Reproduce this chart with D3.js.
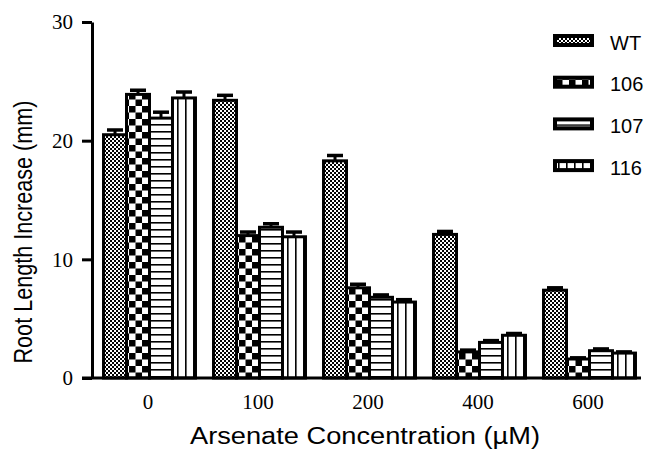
<!DOCTYPE html>
<html>
<head>
<meta charset="utf-8">
<script src="https://cdn.jsdelivr.net/npm/d3@7"></script>
<style>
  html, body { margin: 0; padding: 0; background: #fff; }
  svg { display: block; }
</style>
</head>
<body>
<svg id="chart" width="649" height="451"></svg>
<script>
// ---- data ----
const categories = ["0", "100", "200", "400", "600"];
const seriesNames = ["WT", "106", "107", "116"];
const valuesWT  = [20.5, 23.4, 18.3, 12.1, 7.4];
const values106 = [23.9, 12.0, 7.6, 2.2, 1.6];
const values107 = [21.9, 12.7, 6.8, 3.0, 2.3];
const values116 = [23.6, 11.9, 6.4, 3.6, 2.1];
const errWT  = [0.40, 0.42, 0.45, 0.25, 0.20];
const err106 = [0.35, 0.30, 0.30, 0.15, 0.10];
const err107 = [0.50, 0.30, 0.20, 0.15, 0.15];
const err116 = [0.50, 0.40, 0.20, 0.15, 0.10];
const yTicks = [0, 10, 20, 30];

const seriesVals = [valuesWT, values106, values107, values116];
const seriesErr = [errWT, err106, err107, err116];
const patternIds = ["pWT", "p106", "p107", "p116"];

const svg = d3.select("#chart");
const defs = svg.append("defs");

// fine checker
let p = defs.append("pattern").attr("id", "pWT").attr("patternUnits", "userSpaceOnUse")
  .attr("width", 4).attr("height", 4);
p.append("rect").attr("width", 4).attr("height", 4).attr("fill", "#fff");
p.append("rect").attr("x", 0).attr("y", 0).attr("width", 2).attr("height", 2).attr("fill", "#000");
p.append("rect").attr("x", 2).attr("y", 2).attr("width", 2).attr("height", 2).attr("fill", "#000");
// coarse checker
p = defs.append("pattern").attr("id", "p106").attr("patternUnits", "userSpaceOnUse")
  .attr("width", 13).attr("height", 13).attr("x", 1).attr("y", 2);
p.append("rect").attr("width", 13).attr("height", 13).attr("fill", "#fff");
p.append("rect").attr("x", 0).attr("y", 0).attr("width", 6.5).attr("height", 6.5).attr("fill", "#000");
p.append("rect").attr("x", 6.5).attr("y", 6.5).attr("width", 6.5).attr("height", 6.5).attr("fill", "#000");
// horizontal lines
p = defs.append("pattern").attr("id", "p107").attr("patternUnits", "userSpaceOnUse")
  .attr("width", 7).attr("height", 7);
p.append("rect").attr("width", 7).attr("height", 7).attr("fill", "#fff");
p.append("rect").attr("x", 0).attr("y", 5).attr("width", 7).attr("height", 1.6).attr("fill", "#000");
// vertical lines
p = defs.append("pattern").attr("id", "p116").attr("patternUnits", "userSpaceOnUse")
  .attr("width", 8).attr("height", 8).attr("x", 3);
p.append("rect").attr("width", 8).attr("height", 8).attr("fill", "#fff");
p.append("rect").attr("x", 0).attr("y", 0).attr("width", 1.6).attr("height", 8).attr("fill", "#000");

// ---- scales ----
const y = d3.scaleLinear().domain([0, 30]).range([378, 22]);
const x0 = d3.scaleBand().domain(categories).range([93, 643])
  .paddingInner(0.164).paddingOuter(0.082);
const x1 = d3.scaleBand().domain(seriesNames).range([0, x0.bandwidth()]).padding(0);

// ---- bars ----
const groups = svg.append("g").selectAll("g").data(categories).join("g")
  .attr("transform", d => `translate(${x0(d)},0)`);

seriesNames.forEach((s, si) => {
  groups.append("rect")
    .attr("x", x1(s) + 1.5)
    .attr("width", x1.bandwidth())
    .attr("y", (d, ci) => y(seriesVals[si][ci]))
    .attr("height", (d, ci) => y(0) - y(seriesVals[si][ci]))
    .attr("fill", `url(#${patternIds[si]})`)
    .attr("stroke", "#000").attr("stroke-width", 3);
});
// error bars
seriesNames.forEach((s, si) => {
  const cx = x1(s) + x1.bandwidth() / 2 + 1.5;
  groups.append("line")
    .attr("x1", cx).attr("x2", cx)
    .attr("y1", (d, ci) => y(seriesVals[si][ci]))
    .attr("y2", (d, ci) => y(seriesVals[si][ci] + seriesErr[si][ci]))
    .attr("stroke", "#000").attr("stroke-width", 3);
  groups.append("line")
    .attr("x1", cx - 8).attr("x2", cx + 8)
    .attr("y1", (d, ci) => y(seriesVals[si][ci] + seriesErr[si][ci]))
    .attr("y2", (d, ci) => y(seriesVals[si][ci] + seriesErr[si][ci]))
    .attr("stroke", "#000").attr("stroke-width", 3.5);
});

// ---- axes ----
const yAxis = svg.append("g").attr("transform", "translate(92,0)")
  .call(d3.axisLeft(y).tickValues(yTicks).tickSize(10).tickSizeOuter(0).tickPadding(9));
yAxis.select(".domain").attr("stroke-width", 3);
yAxis.selectAll(".tick line").attr("stroke-width", 3);
yAxis.selectAll(".tick text").attr("font-family", "Liberation Serif").attr("font-size", 21).attr("fill", "#000");

const xAxis = svg.append("g").attr("transform", "translate(0,378)")
  .call(d3.axisBottom(x0).tickSize(0).tickPadding(16));
xAxis.select(".domain").attr("d", "M82,0H641").attr("stroke-width", 3);
xAxis.selectAll(".tick text").attr("font-family", "Liberation Serif").attr("font-size", 21).attr("fill", "#000");

// axis titles
svg.append("text").attr("x", 365).attr("y", 444).attr("text-anchor", "middle")
  .attr("font-family", "Liberation Sans").attr("font-size", 23)
  .attr("textLength", 350).attr("lengthAdjust", "spacingAndGlyphs")
  .text("Arsenate Concentration (µM)");
svg.append("text").attr("transform", "translate(32,232) rotate(-90)").attr("text-anchor", "middle")
  .attr("font-family", "Liberation Sans").attr("font-size", 25)
  .attr("textLength", 263).attr("lengthAdjust", "spacingAndGlyphs")
  .text("Root Length Increase (mm)");

// ---- legend ----
const leg = svg.append("g").selectAll("g").data(seriesNames).join("g")
  .attr("transform", (d, i) => `translate(555,${36 + i * 41.7})`);
leg.append("rect").attr("width", 37).attr("height", 9)
  .attr("fill", (d, i) => `url(#${patternIds[i]})`)
  .attr("stroke", "#000").attr("stroke-width", 4);
leg.append("text").attr("x", 55).attr("y", 13.5)
  .attr("font-family", "Liberation Sans").attr("font-size", 20)
  .text(d => d);
</script>
</body>
</html>
